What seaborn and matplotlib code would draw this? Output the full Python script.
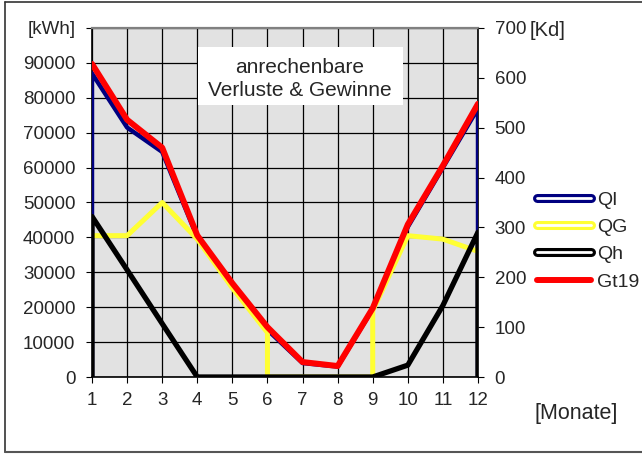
import matplotlib
matplotlib.use("Agg")
import matplotlib.pyplot as plt
import matplotlib.patheffects as pe
from matplotlib.lines import Line2D
from matplotlib.patches import Rectangle
import seaborn as sns
import pandas as pd

# ---- data ----
months = [1, 2, 3, 4, 5, 6, 7, 8, 9, 10, 11, 12]
month_labels = ["1", "2", "3", "4", "5", "6", "7", "8", "9", "10", "11", "12"]

# QI: losses [kWh] (series starts and ends at 0 on months 1 and 12)
QI_x = [1, 1, 2, 3, 4, 5, 6, 7, 8, 9, 10, 11, 12, 12]
QI = [0, 87000, 71500, 64500, 40000, 26500, 13500, 4000, 3000, 19500, 43000, 60000, 77000, 0]

# QG: usable gains [kWh]
QG_x = [1, 2, 3, 4, 5, 6, 6, 7, 8, 9, 9, 10, 11, 12]
QG = [40500, 40500, 50000, 39500, 25500, 12700, 0, 0, 0, 0, 19000, 40500, 39500, 36000]

# Qh: heating demand [kWh]
Qh_x = [1, 1, 2, 3, 4, 5, 6, 7, 8, 9, 10, 11, 12, 12]
Qh = [0, 46000, 30700, 15300, 0, 0, 0, 0, 0, 0, 3400, 20500, 41500, 0]

# Gt19: degree days [Kd] (right axis)
Gt19 = [628, 516, 460, 284, 188, 100, 30, 22, 138, 306, 424, 548]

left_ticks = [0, 10000, 20000, 30000, 40000, 50000, 60000, 70000, 80000, 90000, 100000]
left_ticklabels = ["0", "10000", "20000", "30000", "40000", "50000", "60000",
                   "70000", "80000", "90000", "[kWh]"]
right_ticks = [0, 100, 200, 300, 400, 500, 600, 700]
right_ticklabels = ["0", "100", "200", "300", "400", "500", "600", "700"]

series_names = ["QI", "QG", "Qh", "Gt19"]
colors = {"QI": "#000080", "QG": "#FFFF33", "Qh": "#000000", "Gt19": "#FF0000"}

# ---- style ----
sns.set_style("white")
plt.rcParams["font.family"] = ["Liberation Sans", "DejaVu Sans"]
FS = 13.5

W, H = 642, 454
fig = plt.figure(figsize=(W / 100, H / 100), dpi=100)
L, R, B, T = 92, 478, 377, 28
ax = fig.add_axes([L / W, 1 - B / H, (R - L) / W, (B - T) / H])
ax.set_facecolor("#E2E2E2")

df_qi = pd.DataFrame({"x": QI_x, "y": QI})
df_qg = pd.DataFrame({"x": QG_x, "y": QG})
df_qh = pd.DataFrame({"x": Qh_x, "y": Qh})
df_gt = pd.DataFrame({"x": months, "y": Gt19})

sns.lineplot(data=df_qi, x="x", y="y", sort=False, estimator=None, ax=ax,
             color=colors["QI"], lw=3.2, zorder=3)
sns.lineplot(data=df_qg, x="x", y="y", sort=False, estimator=None, ax=ax,
             color=colors["QG"], lw=3.6, zorder=4)
sns.lineplot(data=df_qh, x="x", y="y", sort=False, estimator=None, ax=ax,
             color=colors["Qh"], lw=3.8, zorder=5)

ax.set_xlim(1, 12)
ax.set_ylim(0, 100000)
ax.set_xticks(months)
ax.set_xticklabels(month_labels)
ax.set_yticks(left_ticks)
ax.set_yticklabels(left_ticklabels)
ax.grid(True, color="black", lw=0.9)
ax.set_axisbelow(True)
ax.set_xlabel("")
ax.set_ylabel("")
ax.tick_params(axis="both", labelsize=FS, length=4, width=0.8, color="black",
               direction="out", bottom=True, left=True)
ax.tick_params(axis="y", pad=8)
ax.tick_params(axis="x", pad=7)
for s in ["left", "right", "bottom"]:
    ax.spines[s].set_color("black")
    ax.spines[s].set_linewidth(1.2)
ax.spines["top"].set_color("#808080")
ax.spines["top"].set_linewidth(1.6)

ax2 = ax.twinx()
sns.lineplot(data=df_gt, x="x", y="y", sort=False, estimator=None, ax=ax2,
             color=colors["Gt19"], lw=4.3, zorder=6)
ax2.set_ylim(0, 700)
ax2.set_xlim(1, 12)
ax2.set_yticks(right_ticks)
ax2.set_yticklabels(right_ticklabels)
ax2.set_ylabel("")
ax2.tick_params(axis="y", labelsize=FS, length=4, width=0.8, color="black",
                direction="out", right=True, pad=8)
for s in ax2.spines.values():
    s.set_visible(False)

# header box
ax.add_patch(Rectangle((0.2746, 0.7794), 0.5311, 0.1662, transform=ax.transAxes,
                       facecolor="white", edgecolor="none", zorder=2.5))
ax.text(0.539, 0.888, "anrechenbare", transform=ax.transAxes, ha="center",
        va="center", fontsize=15, zorder=7)
ax.text(0.539, 0.822, "Verluste & Gewinne", transform=ax.transAxes, ha="center",
        va="center", fontsize=15, zorder=7)

# axis unit labels
fig.text(530 / W, 1 - 30 / H, "[Kd]", ha="left", va="center", fontsize=14.5)
fig.text(535 / W, 1 - 414 / H, "[Monate]", ha="left", va="center", fontsize=15.5)

# legend
handles = []
for name in series_names:
    if name == "Gt19":
        h = Line2D([], [], color=colors[name], lw=4.3, solid_capstyle="round")
    else:
        h = Line2D([], [], color="white", lw=2.0,
                   path_effects=[pe.Stroke(linewidth=6.5, foreground=colors[name],
                                           capstyle="round"), pe.Normal()])
    handles.append(h)
fig.legend(handles, series_names, loc="upper left",
           bbox_to_anchor=(537 / W, 1 - 191 / H), frameon=False, fontsize=FS + 0.5,
           handlelength=2.8, handletextpad=0.3, labelspacing=0.5,
           borderpad=0, borderaxespad=0)

# outer frame
fig.add_artist(Line2D([5 / W, 5 / W], [1 - 2 / H, 1 - 452 / H], color="#333333", lw=1.2,
                      transform=fig.transFigure))
fig.add_artist(Line2D([5 / W, 1], [1 - 452 / H, 1 - 452 / H], color="#555555", lw=1.5,
                      transform=fig.transFigure))
fig.add_artist(Line2D([5 / W, 1], [1 - 2 / H, 1 - 2 / H], color="#333333", lw=1.2,
                      transform=fig.transFigure))

fig.savefig("out.png", dpi=100)
